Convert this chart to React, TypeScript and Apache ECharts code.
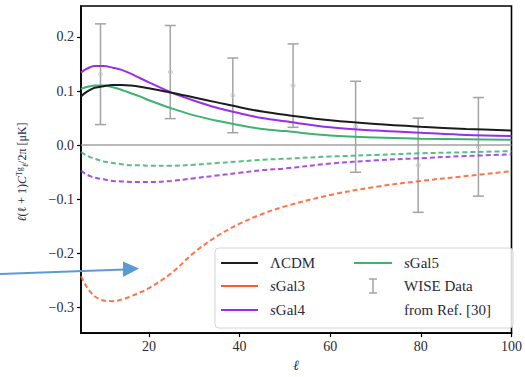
import React, { useEffect, useRef } from "react";
import * as echarts from "echarts";

// multipole values
const ell = [5, 6, 7, 8, 10, 12, 14, 16, 18, 20, 25, 30, 35, 40, 45, 50, 60, 70, 80, 90, 100];
const lcdm = [0.090, 0.097, 0.102, 0.106, 0.109, 0.111, 0.111, 0.110, 0.108, 0.105, 0.097, 0.088, 0.079, 0.070, 0.062, 0.056, 0.046, 0.039, 0.034, 0.030, 0.027];
const sGal4 = [0.134, 0.140, 0.144, 0.146, 0.146, 0.143, 0.139, 0.132, 0.124, 0.116, 0.097, 0.082, 0.069, 0.059, 0.050, 0.044, 0.033, 0.027, 0.023, 0.019, 0.017];
const sGal5 = [0.104, 0.107, 0.109, 0.110, 0.110, 0.107, 0.102, 0.096, 0.090, 0.083, 0.068, 0.055, 0.045, 0.037, 0.030, 0.026, 0.018, 0.014, 0.012, 0.011, 0.010];
const sGal3Dashed = [-0.242, -0.258, -0.270, -0.279, -0.287, -0.288, -0.285, -0.279, -0.272, -0.264, -0.236, -0.198, -0.168, -0.145, -0.127, -0.113, -0.092, -0.077, -0.066, -0.057, -0.048];
const sGal4Dashed = [-0.047, -0.053, -0.057, -0.060, -0.063, -0.066, -0.067, -0.068, -0.068, -0.068, -0.066, -0.061, -0.056, -0.051, -0.046, -0.043, -0.034, -0.028, -0.024, -0.020, -0.017];
const sGal5Dashed = [-0.013, -0.018, -0.022, -0.025, -0.030, -0.033, -0.035, -0.037, -0.037, -0.038, -0.038, -0.036, -0.033, -0.030, -0.027, -0.025, -0.021, -0.018, -0.015, -0.013, -0.011];

// WISE data points
const wiseEll = [9.3, 24.7, 38.5, 51.8, 65.6, 79.4, 92.7];
const wiseVal = [0.131, 0.135, 0.092, 0.110, 0.034, -0.037, -0.003];
const wiseErr = [0.093, 0.086, 0.069, 0.077, 0.084, 0.087, 0.091];

// ticks
const xTicks = [20, 40, 60, 80, 100];
const yTicks = [-0.3, -0.2, -0.1, 0.0, 0.1, 0.2];

const COLORS = {
  lcdm: "#1c1c1c",
  sGal3: "#ff5a2e",
  sGal4: "#9a2ee8",
  sGal5: "#3cb371",
  wise: "#a3a3a3",
};

const FONT = "Liberation Serif";
const TXT = "#2a2a3a";

function pairs(ys: number[]) {
  return ell.map((x, i) => [x, ys[i]]);
}

export default function App() {
  const ref = useRef<HTMLDivElement>(null);

  useEffect(() => {
    if (!ref.current) return;
    const chart = echarts.init(ref.current, undefined, { renderer: "svg" });

    const lineSeries = (name: string, ys: number[], color: string, dashed: boolean, z = 3) => ({
      name,
      type: "line",
      data: pairs(ys),
      smooth: 0.35,
      showSymbol: false,
      symbol: "none",
      z,
      lineStyle: {
        color,
        width: 2,
        type: dashed ? [5, 3] : "solid",
        opacity: dashed ? 0.85 : 1,
      },
      emphasis: { disabled: true },
    });

    const wiseData = wiseEll.map((x, i) => [x, wiseVal[i], wiseErr[i]]);

    const legendRowsY = [263, 286, 310];
    const legendCol1 = [
      { label: "ΛCDM", color: COLORS.lcdm },
      { label: "{i|s}Gal3", color: COLORS.sGal3 },
      { label: "{i|s}Gal4", color: COLORS.sGal4 },
    ];
    const legendTextStyle = {
      fontFamily: FONT,
      fontSize: 15,
      fill: TXT,
      textVerticalAlign: "middle",
      textAlign: "left",
      rich: {
        i: { fontStyle: "italic", fontFamily: FONT, fontSize: 15, fill: TXT, color: TXT },
      },
    };

    const graphic: any[] = [
      {
        type: "rect",
        z: 50,
        shape: { x: 215, y: 248, width: 298, height: 80, r: 4 },
        style: { fill: "rgba(255,255,255,0.85)", stroke: "#d4d4d4", lineWidth: 1 },
      },
    ];
    legendCol1.forEach((it, k) => {
      graphic.push({
        type: "line",
        z: 51,
        shape: { x1: 221, y1: legendRowsY[k], x2: 258, y2: legendRowsY[k] },
        style: { stroke: it.color, lineWidth: 2 },
      });
      graphic.push({
        type: "text",
        z: 51,
        x: 270,
        y: legendRowsY[k],
        style: { ...legendTextStyle, text: it.label },
      });
    });
    graphic.push({
      type: "line",
      z: 51,
      shape: { x1: 354, y1: legendRowsY[0], x2: 392, y2: legendRowsY[0] },
      style: { stroke: COLORS.sGal5, lineWidth: 2 },
    });
    graphic.push({
      type: "text",
      z: 51,
      x: 404,
      y: legendRowsY[0],
      style: { ...legendTextStyle, text: "{i|s}Gal5" },
    });
    graphic.push({
      type: "group",
      z: 51,
      children: [
        { type: "line", z: 51, shape: { x1: 373, y1: 279, x2: 373, y2: 293 }, style: { stroke: COLORS.wise, lineWidth: 1.5 } },
        { type: "line", z: 51, shape: { x1: 369, y1: 279, x2: 377, y2: 279 }, style: { stroke: COLORS.wise, lineWidth: 1.5 } },
        { type: "line", z: 51, shape: { x1: 369, y1: 293, x2: 377, y2: 293 }, style: { stroke: COLORS.wise, lineWidth: 1.5 } },
      ],
    });
    graphic.push({
      type: "text",
      z: 51,
      x: 404,
      y: legendRowsY[1],
      style: { ...legendTextStyle, text: "WISE Data" },
    });
    graphic.push({
      type: "text",
      z: 51,
      x: 404,
      y: legendRowsY[2],
      style: { ...legendTextStyle, text: "from Ref. [30]" },
    });
    // y axis title
    graphic.push({
      type: "text",
      z: 51,
      x: 22,
      y: 172,
      rotation: Math.PI / 2,
      style: {
        text: "{i|ℓ}(ℓ + 1){i|C}{sup|Tg}{sub|ℓ}/2π [μK]",
        fontFamily: FONT,
        fontSize: 12,
        fill: TXT,
        textAlign: "center",
        textVerticalAlign: "middle",
        rich: {
          i: { fontStyle: "italic", fontSize: 12, fontFamily: FONT, fill: TXT, color: TXT },
          sup: { fontSize: 8, fontFamily: FONT, verticalAlign: "top", fill: TXT, color: TXT, lineHeight: 14 },
          sub: { fontSize: 8, fontStyle: "italic", fontFamily: FONT, verticalAlign: "bottom", fill: TXT, color: TXT, lineHeight: 14 },
        },
      },
    });
    // blue annotation arrow
    graphic.push({
      type: "line",
      z: 60,
      shape: { x1: 0, y1: 274, x2: 125, y2: 269.5 },
      style: { stroke: "#5b9bd5", lineWidth: 2 },
    });
    graphic.push({
      type: "polygon",
      z: 60,
      shape: { points: [[123, 261.5], [139, 268.5], [123, 277]] },
      style: { fill: "#5b9bd5" },
    });

    const option: any = {
      animation: false,
      backgroundColor: "#ffffff",
      textStyle: { fontFamily: FONT },
      grid: {
        left: 81,
        right: 4,
        top: 6,
        bottom: 42,
        show: true,
        borderColor: "#000",
        borderWidth: 1.6,
        backgroundColor: "transparent",
      },
      xAxis: {
        type: "value",
        min: 5,
        max: 100,
        name: "ℓ",
        nameLocation: "middle",
        nameGap: 24,
        nameTextStyle: { fontFamily: FONT, fontStyle: "italic", fontSize: 14, color: TXT },
        splitLine: { show: false },
        axisLine: { show: true, onZero: false, lineStyle: { color: "#000", width: 1.6 } },
        axisTick: { show: true, length: 4, customValues: xTicks, lineStyle: { color: "#000", width: 1.2 } },
        axisLabel: {
          customValues: xTicks,
          fontFamily: FONT,
          fontSize: 14,
          color: TXT,
          margin: 6,
          alignMaxLabel: "center",
          formatter: (v: number) => String(Math.round(v)),
        },
      },
      yAxis: {
        type: "value",
        min: -0.347,
        max: 0.257,
        splitLine: { show: false },
        axisLine: { show: true, onZero: false, lineStyle: { color: "#000", width: 1.6 } },
        axisTick: { show: true, length: 4, customValues: yTicks, lineStyle: { color: "#000", width: 1.2 } },
        axisLabel: {
          customValues: yTicks,
          fontFamily: FONT,
          fontSize: 14,
          color: TXT,
          margin: 7,
          formatter: (v: number) => v.toFixed(1).replace("-", "−"),
        },
      },
      series: [
        {
          name: "zero",
          type: "line",
          data: [],
          silent: true,
          z: 1,
          markLine: {
            silent: true,
            symbol: "none",
            label: { show: false },
            lineStyle: { color: "#a0a0a0", width: 1.5, type: "solid" },
            data: [{ yAxis: 0 }],
          },
        },
        {
          name: "WISE Data",
          type: "custom",
          z: 2,
          data: wiseData,
          renderItem: (params: any, api: any) => {
            const x = api.value(0);
            const c = api.value(1);
            const e = api.value(2);
            const top = api.coord([x, c + e]);
            const bot = api.coord([x, c - e]);
            const mid = api.coord([x, c]);
            const w = 5.5;
            const st = { stroke: COLORS.wise, lineWidth: 1.5, fill: "none" };
            return {
              type: "group",
              children: [
                { type: "line", shape: { x1: top[0], y1: top[1], x2: bot[0], y2: bot[1] }, style: st },
                { type: "line", shape: { x1: top[0] - w, y1: top[1], x2: top[0] + w, y2: top[1] }, style: st },
                { type: "line", shape: { x1: bot[0] - w, y1: bot[1], x2: bot[0] + w, y2: bot[1] }, style: st },
                { type: "circle", shape: { cx: mid[0], cy: mid[1], r: 2 }, style: { stroke: "#c8c8c8", lineWidth: 1, fill: "none" } },
              ],
            };
          },
        },
        lineSeries("sGal5", sGal5, COLORS.sGal5, false, 3),
        lineSeries("sGal4", sGal4, COLORS.sGal4, false, 4),
        lineSeries("ΛCDM", lcdm, COLORS.lcdm, false, 5),
        lineSeries("sGal3 (negative)", sGal3Dashed, COLORS.sGal3, true, 3),
        lineSeries("sGal4 (negative)", sGal4Dashed, COLORS.sGal4, true, 3),
        lineSeries("sGal5 (negative)", sGal5Dashed, COLORS.sGal5, true, 3),
      ],
      graphic,
    };

    chart.setOption(option);
    return () => chart.dispose();
  }, []);

  return (
    <div
      ref={ref}
      style={{ position: "fixed", left: 0, top: 0, width: 525, height: 377, background: "#fff" }}
    />
  );
}
